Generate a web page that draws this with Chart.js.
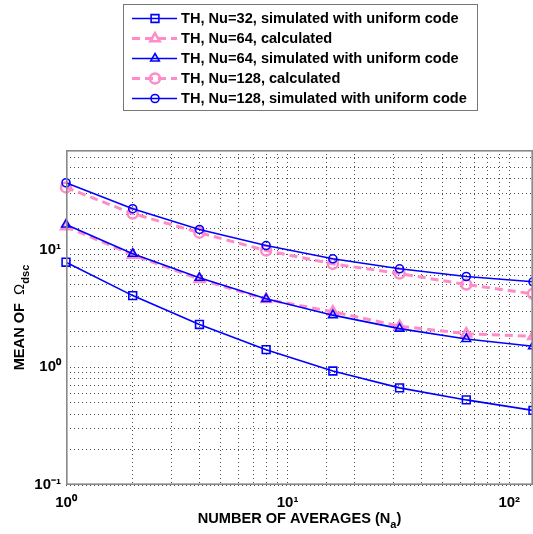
<!DOCTYPE html>
<html><head><meta charset="utf-8">
<script src="https://cdn.jsdelivr.net/npm/chart.js@4/dist/chart.umd.min.js"></script>
<style>html,body{margin:0;padding:0;background:#fff;overflow:hidden}#wrap{width:533px;height:534px}</style>
</head><body><div id="wrap"><canvas id="c" width="533" height="534"></canvas></div>
<script>
// ---- data ----
const averages = [1, 2, 4, 8, 16, 32, 64, 128];
const nu32Sim   = [7.8, 4.06, 2.31, 1.41, 0.93, 0.668, 0.528, 0.43];
const nu64Calc  = [15.7, 9.0, 5.6, 3.78, 2.96, 2.23, 1.93, 1.83];
const nu64Sim   = [16.3, 9.2, 5.75, 3.81, 2.77, 2.13, 1.74, 1.51];
const nu128Calc = [33.7, 20.2, 13.9, 9.8, 7.55, 6.25, 5.04, 4.2];
const nu128Sim  = [36.9, 22.2, 14.8, 10.8, 8.34, 6.86, 5.9, 5.32];
const seriesLabels = [
  'TH, Nu=32, simulated with uniform code',
  'TH, Nu=64, calculated',
  'TH, Nu=64, simulated with uniform code',
  'TH, Nu=128, calculated',
  'TH, Nu=128, simulated with uniform code'
];
const xTickLabels = {1: '10\u2070', 10: '10\u00b9', 100: '10\u00b2'};
const yTickLabels = {0.1: '10\u207b\u00b9', 1: '10\u2070', 10: '10\u00b9'};
const xTitle = ['NUMBER OF AVERAGES (N', 'a', ')'];
const yTitle = ['MEAN OF  ', '\u03a9', 'dsc'];

const BLUE = '#0000ff';
const PINK = 'rgb(255,140,200)';
const FONT = '"Liberation Sans", Arial, Helvetica, sans-serif';

function toPts(vals) { return averages.map((x, i) => ({x: x, y: vals[i]})); }

const styles = [
  {data: nu32Sim, color: BLUE, style: 'rect', r: 5.5, bw: 1.6, lw: 1.6, dash: [], order: 0},
  {data: nu64Calc, color: PINK, style: 'triangle', r: 5.5, bw: 2.5, lw: 3, dash: [8, 5], order: 2},
  {data: nu64Sim, color: BLUE, style: 'triangle', r: 5, bw: 1.6, lw: 1.6, dash: [], order: 0},
  {data: nu128Calc, color: PINK, style: 'circle', r: 5, bw: 2.5, lw: 3, dash: [8, 5], order: 2},
  {data: nu128Sim, color: BLUE, style: 'circle', r: 4, bw: 1.6, lw: 1.6, dash: [], order: 0}
];

const datasets = styles.map((s, i) => ({
  label: seriesLabels[i],
  data: toPts(s.data),
  borderColor: s.color,
  backgroundColor: 'rgba(0,0,0,0)',
  borderWidth: s.lw,
  borderDash: s.dash,
  pointStyle: s.style,
  pointRadius: s.r,
  pointBorderWidth: s.bw,
  pointBorderColor: s.color,
  pointBackgroundColor: 'rgba(0,0,0,0)',
  tension: 0,
  fill: false,
  clip: 8,
  order: s.order
}));

function drawMarker(ctx, style, x, y, r, color, bw) {
  ctx.save();
  ctx.setLineDash([]);
  ctx.strokeStyle = color; ctx.lineWidth = bw;
  ctx.beginPath();
  if (style === 'rect') {
    const s = Math.SQRT1_2 * r;
    ctx.rect(x - s, y - s, 2 * s, 2 * s);
  } else if (style === 'triangle') {
    ctx.moveTo(x, y - r);
    ctx.lineTo(x + Math.cos(Math.PI / 6) * r, y + Math.sin(Math.PI / 6) * r);
    ctx.lineTo(x - Math.cos(Math.PI / 6) * r, y + Math.sin(Math.PI / 6) * r);
    ctx.closePath();
  } else {
    ctx.arc(x, y, r, 0, Math.PI * 2);
  }
  ctx.stroke();
  ctx.restore();
}

const decorPlugin = {
  id: 'decor',
  afterDraw(chart) {
    const ctx = chart.ctx;
    const a = chart.chartArea;
    // axes box
    ctx.save();
    ctx.strokeStyle = '#888'; ctx.lineWidth = 1.6; ctx.setLineDash([]);
    ctx.strokeRect(a.left + 0.8, a.top + 0.8, a.right - a.left - 1.6, a.bottom - a.top - 1.6);
    ctx.restore();

    // x title with subscript
    ctx.save();
    ctx.fillStyle = '#000';
    ctx.textBaseline = 'alphabetic';
    const fMain = 'bold 14.6px ' + FONT, fSub = 'bold 11px ' + FONT;
    ctx.font = fMain; const w1 = ctx.measureText(xTitle[0]).width; const w3 = ctx.measureText(xTitle[2]).width;
    ctx.font = fSub; const w2 = ctx.measureText(xTitle[1]).width;
    const tot = w1 + w2 + w3;
    let x0 = (a.left + a.right) / 2 - tot / 2; const yb = 523;
    ctx.font = fMain; ctx.textAlign = 'left'; ctx.fillText(xTitle[0], x0, yb);
    ctx.font = fSub; ctx.fillText(xTitle[1], x0 + w1, yb + 5);
    ctx.font = fMain; ctx.fillText(xTitle[2], x0 + w1 + w2, yb);
    ctx.restore();

    // y title rotated
    ctx.save();
    ctx.fillStyle = '#000';
    ctx.translate(24, (a.top + a.bottom) / 2);
    ctx.rotate(-Math.PI / 2);
    const fOm = '15px ' + FONT;
    ctx.font = fMain; const u1 = ctx.measureText(yTitle[0]).width;
    ctx.font = fOm; const u2 = ctx.measureText(yTitle[1]).width;
    ctx.font = fSub; const u3 = ctx.measureText(yTitle[2]).width;
    let s0 = -(u1 + u2 + u3) / 2;
    ctx.textAlign = 'left'; ctx.textBaseline = 'alphabetic';
    ctx.font = fMain; ctx.fillText(yTitle[0], s0, 0);
    ctx.font = fOm; ctx.fillText(yTitle[1], s0 + u1, 0);
    ctx.font = fSub; ctx.fillText(yTitle[2], s0 + u1 + u2, 5);
    ctx.restore();

    // legend
    ctx.save();
    ctx.fillStyle = '#fff';
    ctx.fillRect(123.5, 4.5, 354, 106);
    ctx.strokeStyle = '#777'; ctx.lineWidth = 1;
    ctx.strokeRect(123.5, 4.5, 354, 106);
    const rows = [18.5, 38.5, 58.5, 78.5, 98.5];
    styles.forEach((s, i) => {
      const y = rows[i];
      ctx.save();
      ctx.strokeStyle = s.color; ctx.lineWidth = s.lw; ctx.setLineDash(s.dash);
      ctx.beginPath(); ctx.moveTo(132, y); ctx.lineTo(177, y); ctx.stroke();
      ctx.restore();
      drawMarker(ctx, s.style, 155, y, s.r, s.color, s.bw);
      ctx.fillStyle = '#000'; ctx.font = fMain; ctx.textAlign = 'left'; ctx.textBaseline = 'middle';
      ctx.fillText(seriesLabels[i], 181, y + 0.5);
    });
    ctx.restore();
  }
};

new Chart(document.getElementById('c'), {
  type: 'line',
  data: {datasets: datasets},
  options: {
    responsive: false,
    devicePixelRatio: 1,
    animation: false,
    events: [],
    layout: {autoPadding: false, padding: {top: 150, left: 0, right: 0, bottom: 0}},
    plugins: {legend: {display: false}, tooltip: {enabled: false}},
    scales: {
      x: {
        type: 'logarithmic', min: 1, max: 128,
        grid: {color: 'rgba(0,0,0,0.7)', lineWidth: 1, drawTicks: true, tickLength: 9, tickColor: 'rgba(0,0,0,0)'},
        border: {display: false, dash: [1, 3]},
        ticks: {
          autoSkip: false, maxRotation: 0, minRotation: 0, padding: 0, color: '#000',
          font: {family: FONT, size: 15, weight: 'bold'},
          callback: (v) => xTickLabels[v] || ''
        },
        afterFit: (s) => { s.height = 49; }
      },
      y: {
        type: 'logarithmic', min: 0.1, max: 70,
        grid: {color: 'rgba(0,0,0,0.7)', lineWidth: 1, drawTicks: true, tickLength: 5, tickColor: 'rgba(0,0,0,0)'},
        border: {display: false, dash: [1, 3]},
        ticks: {
          autoSkip: false, padding: 0, color: '#000',
          font: {family: FONT, size: 15, weight: 'bold'},
          callback: (v) => {
            const k = Object.keys(yTickLabels).find(t => Math.abs(parseFloat(t) - v) < 1e-9);
            return k ? yTickLabels[k] : '';
          }
        },
        afterFit: (s) => { s.width = 66; }
      }
    }
  },
  plugins: [decorPlugin]
});
</script>
</body></html>
